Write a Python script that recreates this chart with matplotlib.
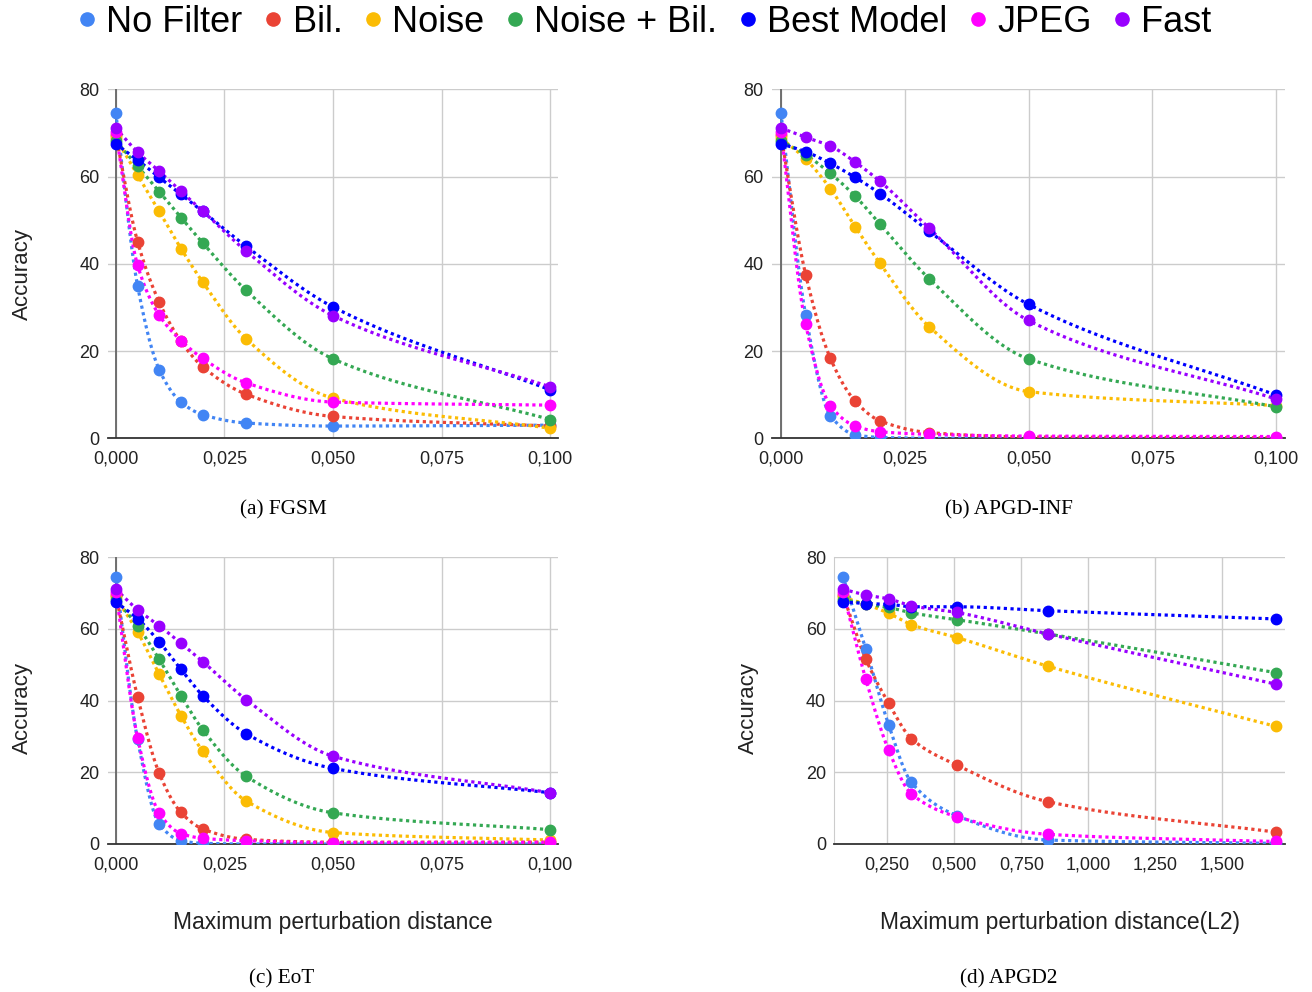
import numpy as np
import matplotlib
matplotlib.use('Agg')
import matplotlib.pyplot as plt
from matplotlib.lines import Line2D
from matplotlib.ticker import FixedLocator, FuncFormatter

plt.rcParams['font.family'] = ['Liberation Sans', 'DejaVu Sans']

names = ['No Filter', 'Bil.', 'Noise', 'Noise + Bil.', 'Best Model', 'JPEG', 'Fast']
colors = ['#4285F4', '#EA4335', '#FBBC04', '#34A853', '#0000FF', '#FF00FF', '#9900FF']

eps_linf = [0, 0.005, 0.01, 0.015, 0.02, 0.03, 0.05, 0.1]
eps_l2 = [0.085, 0.17, 0.255, 0.34, 0.51, 0.85, 1.7]

# accuracy per filter, order follows names
fgsm = [
    [74.6, 35.0, 15.7, 8.3, 5.4, 3.5, 2.8, 3.0],
    [69.5, 45.1, 31.2, 22.2, 16.4, 10.1, 5.0, 2.8],
    [68.8, 60.4, 52.0, 43.5, 35.8, 22.8, 9.2, 2.3],
    [68.2, 62.4, 56.5, 50.6, 44.8, 33.9, 18.2, 4.3],
    [67.5, 63.8, 59.8, 55.9, 52.0, 44.0, 30.1, 11.1],
    [70.3, 39.7, 28.2, 22.4, 18.3, 12.7, 8.3, 7.6],
    [71.1, 65.6, 61.2, 56.6, 52.1, 42.9, 28.1, 11.8],
]
apgd_inf = [
    [74.6, 28.2, 5.2, 0.8, 0.2, 0.0, 0.0, 0.0],
    [69.5, 37.5, 18.3, 8.5, 4.0, 1.3, 0.3, 0.1],
    [68.8, 64.0, 57.2, 48.5, 40.1, 25.5, 10.7, 7.5],
    [68.2, 65.0, 60.7, 55.5, 49.1, 36.5, 18.2, 7.2],
    [67.5, 65.7, 63.0, 59.8, 56.1, 47.4, 30.7, 9.9],
    [70.3, 26.1, 7.5, 2.8, 1.5, 0.9, 0.5, 0.4],
    [71.1, 69.0, 67.0, 63.3, 58.9, 48.1, 27.0, 9.0],
]
eot = [
    [74.6, 29.2, 5.6, 0.9, 0.2, 0.0, 0.0, 0.0],
    [69.5, 41.1, 19.7, 8.8, 4.2, 1.3, 0.5, 0.5],
    [68.8, 59.2, 47.3, 35.8, 25.9, 12.0, 3.2, 1.1],
    [68.2, 60.9, 51.5, 41.3, 31.9, 18.9, 8.7, 4.0],
    [67.5, 62.9, 56.4, 48.7, 41.4, 30.8, 21.1, 14.3],
    [70.3, 29.7, 8.6, 2.9, 1.6, 0.9, 0.4, 0.5],
    [71.1, 65.4, 60.9, 56.0, 50.9, 40.3, 24.5, 14.3],
]
apgd2 = [
    [74.6, 54.5, 33.3, 17.2, 7.9, 1.1, 0.2],
    [69.5, 51.6, 39.3, 29.4, 22.0, 11.8, 3.3],
    [68.8, 66.9, 64.4, 61.2, 57.6, 49.6, 32.8],
    [68.2, 67.0, 66.0, 64.5, 62.6, 58.6, 47.8],
    [67.5, 67.1, 66.9, 66.2, 66.2, 65.1, 62.8],
    [70.3, 46.0, 26.2, 14.0, 7.6, 2.7, 0.7],
    [71.1, 69.5, 68.4, 66.5, 64.6, 58.6, 44.6],
]


def smooth(x, y, n=200):
    # monotone cubic hermite, only used to draw the curved dotted line
    x = np.asarray(x, float)
    y = np.asarray(y, float)
    h = np.diff(x)
    d = np.diff(y) / h
    m = np.zeros_like(y)
    m[0], m[-1] = d[0], d[-1]
    for i in range(1, len(x) - 1):
        if d[i - 1] * d[i] > 0:
            w1 = 2 * h[i] + h[i - 1]
            w2 = h[i] + 2 * h[i - 1]
            m[i] = (w1 + w2) / (w1 / d[i - 1] + w2 / d[i])
    xs, ys = [], []
    for i in range(len(x) - 1):
        t = np.linspace(0, 1, n)
        h00 = 2 * t**3 - 3 * t**2 + 1
        h10 = t**3 - 2 * t**2 + t
        h01 = -2 * t**3 + 3 * t**2
        h11 = t**3 - t**2
        xs.append(x[i] + t * h[i])
        ys.append(h00 * y[i] + h10 * h[i] * m[i] + h01 * y[i + 1] + h11 * h[i] * m[i + 1])
    return np.concatenate(xs), np.concatenate(ys)


fig = plt.figure(figsize=(13.12, 9.92), dpi=100)

panels = [
    ([108 / 1312, 0.5582, 450 / 1312, 0.3518], eps_linf, fgsm, (-0.0018, 0.1018), True),
    ([772 / 1312, 0.5582, 513 / 1312, 0.3518], eps_linf, apgd_inf, (-0.0018, 0.1018), True),
    ([108 / 1312, 0.1492, 450 / 1312, 0.2890], eps_linf, eot, (-0.0018, 0.1018), True),
    ([834.3 / 1312, 0.1492, 450.7 / 1312, 0.2890], eps_l2, apgd2, (0.0525, 1.7336), False),
]

for rect, xs, data, xl, linf in panels:
    ax = fig.add_axes(rect)
    for k in range(len(names)):
        sx, sy = smooth(xs, data[k])
        ax.plot(sx, sy, color=colors[k], lw=2.3, linestyle=(0, (1, 1.1)), zorder=3)
        ax.plot(xs, data[k], 'o', color=colors[k], ms=7.5, zorder=4)
    ax.set_xlim(*xl)
    ax.set_ylim(0, 80)
    ax.set_yticks([0, 20, 40, 60, 80])
    if linf:
        ax.xaxis.set_major_locator(FixedLocator([0, 0.025, 0.05, 0.075, 0.1]))
        ax.axvline(0, color='#666666', lw=1.3, zorder=2)
    else:
        ax.xaxis.set_major_locator(FixedLocator([0.25, 0.5, 0.75, 1.0, 1.25, 1.5]))
    ax.xaxis.set_major_formatter(FuncFormatter(lambda v, p: ('%.3f' % v).replace('.', ',')))
    ax.grid(True, color='#cccccc', lw=1)
    ax.set_axisbelow(True)
    for s in ['top', 'right']:
        ax.spines[s].set_visible(False)
    if linf:
        ax.spines['left'].set_visible(False)
    else:
        ax.spines['left'].set_color('#cccccc')
    ax.spines['bottom'].set_color('#333333')
    ax.spines['bottom'].set_linewidth(1.3)
    ax.tick_params(length=0, labelsize=13, labelcolor='#222222')
    ax.tick_params(axis='y', pad=6)
    ax.tick_params(axis='x', pad=9)

txt = dict(ha='center', va='center', color='#222222')
fig.text(22 / 1312, 1 - 274 / 992, 'Accuracy', rotation=90, fontsize=16, **txt)
fig.text(22 / 1312, 1 - 708 / 992, 'Accuracy', rotation=90, fontsize=16, **txt)
fig.text(748 / 1312, 1 - 708 / 992, 'Accuracy', rotation=90, fontsize=16, **txt)
fig.text(333 / 1312, 1 - 923 / 992, 'Maximum perturbation distance', fontsize=16.5, **txt)
fig.text(1060 / 1312, 1 - 923 / 992, 'Maximum perturbation distance(L2)', fontsize=16.5, **txt)

cap = dict(ha='center', va='center', color='black', fontsize=15.3, family=['Liberation Serif', 'DejaVu Serif'])
fig.text(283 / 1312, 1 - 510 / 992, '(a) FGSM', **cap)
fig.text(1009 / 1312, 1 - 510 / 992, '(b) APGD-INF', **cap)
fig.text(282 / 1312, 1 - 979 / 992, '(c) EoT', **cap)
fig.text(1009 / 1312, 1 - 979 / 992, '(d) APGD2', **cap)

handles = [Line2D([], [], marker='o', color=c, linestyle='none', markersize=9.5) for c in colors]
fig.legend(handles, names, loc='center', bbox_to_anchor=(645 / 1312, 1 - 22 / 992), ncol=7,
           frameon=False, fontsize=26, handlelength=0.5, handletextpad=0.28,
           columnspacing=0.6, borderaxespad=0, borderpad=0)

fig.savefig('out.png', dpi=100)
